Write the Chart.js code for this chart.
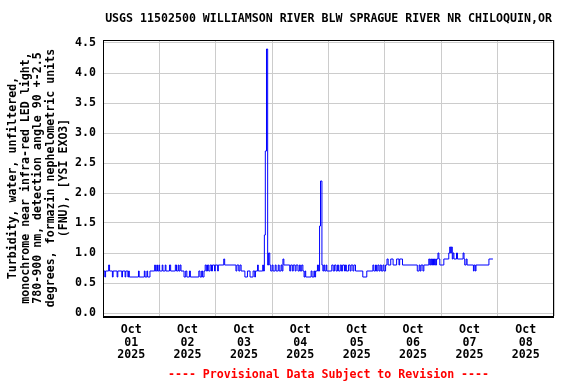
<!DOCTYPE html>
<html>
<head>
<meta charset="utf-8">
<script src="https://cdn.jsdelivr.net/npm/chart.js@4"></script>
<style>
html,body{margin:0;padding:0;background:#fff;}
#wrap{width:576px;height:384px;position:relative;}
</style>
</head>
<body>
<div id="wrap"><canvas id="c"></canvas></div>
<script>
// Hours since 2025-10-01 00:00 where the reading changes
const timesHours = [0,0.3,0.8,1.1,2.4,2.8,4,4.3,6,6.3,8,8.3,9.4,9.7,10.6,10.9,11.2,15.1,15.4,17.6,17.9,18.7,19,20,22,22.3,22.9,23.2,23.8,24.1,25.2,25.5,26.5,26.8,28.3,28.8,30.8,31.3,32,32.3,32.8,33.2,34.5,35.2,35.7,36.8,37.2,40.8,41.3,42,42.4,43,43.5,44,44.5,45,45.6,46.2,46.6,47.5,47.8,48.8,49.1,51.4,51.8,56.6,57,57.8,58.3,58.8,60.4,61.5,62.6,63.9,64.6,64.9,65.8,66.1,68,68.3,68.7,69.1,69.6,70.1,70.5,71,71.4,72,72.4,73.3,73.7,74.6,75,75.8,76.2,76.6,77,79.5,79.9,80.6,81,81.8,82.2,83,83.6,84,84.6,85.1,85.6,86,86.3,88.6,89,89.8,90.1,90.5,91.3,91.7,92.2,92.6,93.2,93.6,94,94.4,95,95.3,97.4,98,98.6,99.2,99.8,100.3,101,101.5,102,102.8,103.2,103.6,104.5,105.2,105.6,106.4,106.8,107.5,110.6,112.3,114.9,115.3,116,116.4,117,117.5,118,118.5,119.2,119.6,120.3,120.9,121.4,122.5,123.5,125,126,126.3,127.5,133.8,134.6,135,135.4,136.2,136.6,138.7,139.1,139.5,139.9,140.3,140.7,141.1,141.5,142,142.6,143,143.4,145.1,147.2,147.6,148,148.3,148.7,149,149.4,150.5,150.9,153.3,153.7,154,154.6,155,157.7,158,158.5,158.8,164.3,166];
const turbidityFNU = [0.6,0.7,0.6,0.7,0.8,0.7,0.6,0.7,0.6,0.7,0.6,0.7,0.6,0.7,0.6,0.7,0.6,0.7,0.6,0.7,0.6,0.7,0.6,0.7,0.8,0.7,0.8,0.7,0.8,0.7,0.8,0.7,0.8,0.7,0.8,0.7,0.8,0.7,0.8,0.7,0.8,0.7,0.6,0.7,0.6,0.7,0.6,0.7,0.6,0.7,0.6,0.7,0.8,0.7,0.8,0.7,0.8,0.7,0.8,0.7,0.8,0.7,0.8,0.9,0.8,0.7,0.8,0.7,0.8,0.7,0.6,0.7,0.6,0.7,0.6,0.7,0.8,0.7,0.8,0.7,1.3,2.7,4.4,0.8,1.0,0.8,0.7,0.8,0.7,0.8,0.7,0.8,0.7,0.8,0.7,0.9,0.8,0.7,0.8,0.7,0.8,0.7,0.8,0.7,0.8,0.7,0.8,0.7,0.6,0.7,0.6,0.7,0.6,0.7,0.6,0.7,0.8,0.7,1.45,2.2,0.8,0.7,0.8,0.7,0.8,0.7,0.8,0.7,0.8,0.7,0.8,0.7,0.8,0.7,0.8,0.7,0.8,0.7,0.8,0.7,0.8,0.7,0.8,0.7,0.6,0.7,0.8,0.7,0.8,0.7,0.8,0.7,0.8,0.7,0.8,0.7,0.8,0.9,0.8,0.9,0.8,0.9,0.8,0.9,0.8,0.7,0.8,0.7,0.8,0.7,0.8,0.9,0.8,0.9,0.8,0.9,0.8,0.9,0.8,0.9,1.0,0.9,0.8,0.9,1.0,1.1,1.0,1.1,0.9,1.0,0.9,1.0,0.9,1.0,0.9,0.8,0.9,0.8,0.7,0.8,0.7,0.8,0.9,0.9];
const dayLabels = ['01','02','03','04','05','06','07','08'];
const monthLabel = 'Oct';
const yearLabel = '2025';
const yTickValues = [0,0.5,1.0,1.5,2.0,2.5,3.0,3.5,4.0,4.5];
const chartTitle = 'USGS 11502500 WILLIAMSON RIVER BLW SPRAGUE RIVER NR CHILOQUIN,OR';
const yAxisTitle = ['Turbidity, water, unfiltered,','monochrome near infra-red LED light,','780-900 nm, detection angle 90 +-2.5','degrees, formazin nephelometric units','(FNU), [YSI EXO3]'];
const footerText = '---- Provisional Data Subject to Revision ----';

const FONT = "'DejaVu Sans Mono', 'Liberation Mono', monospace";
const points = timesHours.map((t,i)=>({x:t,y:turbidityFNU[i]}));

const decor = {
  id:'decor',
  afterDraw(chart){
    const {ctx, chartArea:a} = chart;
    ctx.save();
    ctx.strokeStyle = '#000';
    ctx.lineWidth = 1;
    ctx.strokeRect(a.left+0.5, a.top+0.5, a.right-a.left-1, a.bottom-a.top);
    ctx.beginPath();
    ctx.moveTo(a.left, a.bottom+1.5); ctx.lineTo(a.right, a.bottom+1.5); ctx.stroke();
    const cx = (a.left+a.right)/2;
    ctx.font = "bold 11.6px " + FONT;
    ctx.textAlign = 'center';
    ctx.textBaseline = 'middle';
    ctx.fillStyle = '#000';
    ctx.fillText(chartTitle, cx, 19);
    ctx.fillStyle = '#ff0000';
    ctx.font = "bold 11.6px " + FONT;
    ctx.fillText(footerText, cx, 375);
    ctx.restore();
  }
};

new Chart(document.getElementById('c'), {
  type:'line',
  data:{datasets:[{
    data:points,
    borderColor:'#0000ff',
    borderWidth:1,
    pointRadius:0,
    stepped:'before',
    fill:false,
    tension:0
  }]},
  options:{
    responsive:true,
    maintainAspectRatio:false,
    animation:false,
    events:[],
    layout:{padding:{top:40,right:22,left:0,bottom:0}},
    plugins:{legend:{display:false},tooltip:{enabled:false},title:{display:false}},
    scales:{
      x:{
        type:'linear',
        min:0, max:192,
        afterBuildTicks(s){ s.ticks = []; for(let h=0; h<=192; h+=12) s.ticks.push({value:h}); },
        afterFit(s){ s.height = 68; },
        grid:{
          drawTicks:false,
          color:(c)=> (c.tick && c.tick.value % 24 === 0) ? '#cccccc' : 'rgba(0,0,0,0)',
          lineWidth:1
        },
        border:{display:false},
        ticks:{
          autoSkip:false, maxRotation:0, minRotation:0, padding:7,
          color:'#000',
          font:{family:FONT, size:11.6, weight:'bold', lineHeight:1.12},
          callback:(v)=>{
            if (v % 24 === 12) { const d = Math.floor(v/24); return [monthLabel, dayLabels[d], yearLabel]; }
            return '';
          }
        }
      },
      y:{
        min:-0.05, max:4.55,
        afterBuildTicks(s){ s.ticks = yTickValues.map(v=>({value:v})); },
        afterFit(s){ s.width = 103; },
        grid:{drawTicks:false, color:'#cccccc', lineWidth:1},
        border:{display:false},
        ticks:{
          padding:7, color:'#000',
          font:{family:FONT, size:11.6, weight:'bold'},
          callback:(v)=>Number(v).toFixed(1)
        },
        title:{
          display:true,
          text:yAxisTitle,
          color:'#000',
          padding:{top:6,bottom:0},
          font:{family:FONT, size:11.6, weight:'bold', lineHeight:1.12}
        }
      }
    }
  },
  plugins:[decor]
});
</script>
</body>
</html>
